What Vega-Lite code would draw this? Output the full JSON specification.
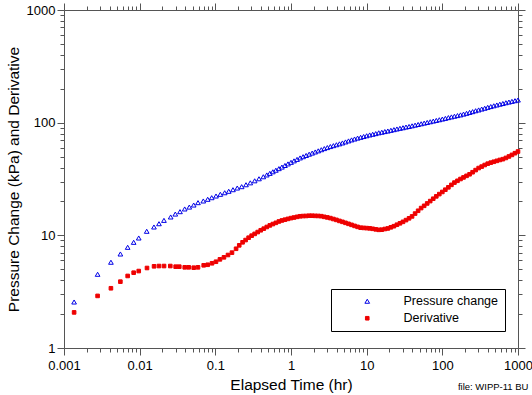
{
  "$schema": "https://vega.github.io/schema/vega-lite/v6.json",
  "width": 454,
  "height": 338,
  "autosize": {"type": "none"},
  "padding": {"left": 64, "top": 10, "right": 14, "bottom": 47},
  "config": {
    "font": "Liberation Sans",
    "view": {"stroke": null},
    "axis": {
      "grid": false,
      "labelFont": "Liberation Sans",
      "titleFont": "Liberation Sans",
      "labelFontSize": 13,
      "titleFontSize": 15.5,
      "titleFontWeight": "normal",
      "labelColor": "#000",
      "titleColor": "#000",
      "domainColor": "#555",
      "tickColor": "#555",
      "labelFlush": false,
      "labelOverlap": false
    }
  },
  "title": {
    "text": "file: WIPP-11 BU",
    "orient": "bottom",
    "anchor": "end",
    "fontSize": 9.5,
    "fontWeight": "normal",
    "font": "Liberation Sans",
    "color": "#000",
    "offset": 0,
    "dy": -11,
    "dx": -4
  },
  "data": {
    "values": [
      {"t": 0.00136, "v": 2.56, "s": "Pressure change"},
      {"t": 0.00278, "v": 4.51, "s": "Pressure change"},
      {"t": 0.00417, "v": 5.77, "s": "Pressure change"},
      {"t": 0.00556, "v": 6.83, "s": "Pressure change"},
      {"t": 0.00694, "v": 7.83, "s": "Pressure change"},
      {"t": 0.00833, "v": 8.67, "s": "Pressure change"},
      {"t": 0.00972, "v": 9.47, "s": "Pressure change"},
      {"t": 0.01239, "v": 10.86, "s": "Pressure change"},
      {"t": 0.01545, "v": 11.86, "s": "Pressure change"},
      {"t": 0.0180, "v": 12.68, "s": "Pressure change"},
      {"t": 0.02094, "v": 13.58, "s": "Pressure change"},
      {"t": 0.0257, "v": 14.55, "s": "Pressure change"},
      {"t": 0.02958, "v": 15.45, "s": "Pressure change"},
      {"t": 0.03412, "v": 16.22, "s": "Pressure change"},
      {"t": 0.03936, "v": 17.14, "s": "Pressure change"},
      {"t": 0.04529, "v": 17.82, "s": "Pressure change"},
      {"t": 0.05176, "v": 18.58, "s": "Pressure change"},
      {"t": 0.05902, "v": 19.50, "s": "Pressure change"},
      {"t": 0.06934, "v": 20.18, "s": "Pressure change"},
      {"t": 0.07925, "v": 20.89, "s": "Pressure change"},
      {"t": 0.08954, "v": 21.58, "s": "Pressure change"},
      {"t": 0.1021, "v": 22.34, "s": "Pressure change"},
      {"t": 0.1164, "v": 23.12, "s": "Pressure change"},
      {"t": 0.1330, "v": 23.88, "s": "Pressure change"},
      {"t": 0.1503, "v": 24.60, "s": "Pressure change"},
      {"t": 0.1710, "v": 25.41, "s": "Pressure change"},
      {"t": 0.1950, "v": 26.30, "s": "Pressure change"},
      {"t": 0.2228, "v": 27.04, "s": "Pressure change"},
      {"t": 0.2541, "v": 28.12, "s": "Pressure change"},
      {"t": 0.2897, "v": 29.24, "s": "Pressure change"},
      {"t": 0.3311, "v": 30.48, "s": "Pressure change"},
      {"t": 0.3776, "v": 31.77, "s": "Pressure change"},
      {"t": 0.4305, "v": 33.11, "s": "Pressure change"},
      {"t": 0.4786, "v": 34.36, "s": "Pressure change"},
      {"t": 0.5248, "v": 35.48, "s": "Pressure change"},
      {"t": 0.5754, "v": 36.64, "s": "Pressure change"},
      {"t": 0.6310, "v": 37.84, "s": "Pressure change"},
      {"t": 0.6918, "v": 39.08, "s": "Pressure change"},
      {"t": 0.7586, "v": 40.36, "s": "Pressure change"},
      {"t": 0.8318, "v": 41.69, "s": "Pressure change"},
      {"t": 0.9120, "v": 43.05, "s": "Pressure change"},
      {"t": 1.000, "v": 44.46, "s": "Pressure change"},
      {"t": 1.096, "v": 45.81, "s": "Pressure change"},
      {"t": 1.202, "v": 47.21, "s": "Pressure change"},
      {"t": 1.318, "v": 48.64, "s": "Pressure change"},
      {"t": 1.445, "v": 49.89, "s": "Pressure change"},
      {"t": 1.585, "v": 51.17, "s": "Pressure change"},
      {"t": 1.738, "v": 52.48, "s": "Pressure change"},
      {"t": 1.905, "v": 53.70, "s": "Pressure change"},
      {"t": 2.089, "v": 54.95, "s": "Pressure change"},
      {"t": 2.291, "v": 56.23, "s": "Pressure change"},
      {"t": 2.512, "v": 57.54, "s": "Pressure change"},
      {"t": 2.754, "v": 58.88, "s": "Pressure change"},
      {"t": 3.020, "v": 60.12, "s": "Pressure change"},
      {"t": 3.311, "v": 61.38, "s": "Pressure change"},
      {"t": 3.631, "v": 62.52, "s": "Pressure change"},
      {"t": 3.981, "v": 63.68, "s": "Pressure change"},
      {"t": 4.365, "v": 64.86, "s": "Pressure change"},
      {"t": 4.786, "v": 66.07, "s": "Pressure change"},
      {"t": 5.248, "v": 67.45, "s": "Pressure change"},
      {"t": 5.754, "v": 68.87, "s": "Pressure change"},
      {"t": 6.310, "v": 70.31, "s": "Pressure change"},
      {"t": 6.918, "v": 71.61, "s": "Pressure change"},
      {"t": 7.586, "v": 72.95, "s": "Pressure change"},
      {"t": 8.318, "v": 74.13, "s": "Pressure change"},
      {"t": 9.120, "v": 75.34, "s": "Pressure change"},
      {"t": 10.00, "v": 76.56, "s": "Pressure change"},
      {"t": 10.96, "v": 77.80, "s": "Pressure change"},
      {"t": 12.02, "v": 78.89, "s": "Pressure change"},
      {"t": 13.18, "v": 79.98, "s": "Pressure change"},
      {"t": 14.45, "v": 81.28, "s": "Pressure change"},
      {"t": 15.85, "v": 82.22, "s": "Pressure change"},
      {"t": 17.38, "v": 83.37, "s": "Pressure change"},
      {"t": 19.05, "v": 84.33, "s": "Pressure change"},
      {"t": 20.89, "v": 85.51, "s": "Pressure change"},
      {"t": 22.91, "v": 86.70, "s": "Pressure change"},
      {"t": 25.12, "v": 87.90, "s": "Pressure change"},
      {"t": 27.54, "v": 89.13, "s": "Pressure change"},
      {"t": 30.20, "v": 90.16, "s": "Pressure change"},
      {"t": 33.11, "v": 91.41, "s": "Pressure change"},
      {"t": 36.31, "v": 92.47, "s": "Pressure change"},
      {"t": 39.81, "v": 93.76, "s": "Pressure change"},
      {"t": 43.65, "v": 95.06, "s": "Pressure change"},
      {"t": 47.86, "v": 96.38, "s": "Pressure change"},
      {"t": 52.48, "v": 97.72, "s": "Pressure change"},
      {"t": 57.54, "v": 99.08, "s": "Pressure change"},
      {"t": 63.10, "v": 100.46, "s": "Pressure change"},
      {"t": 69.18, "v": 101.86, "s": "Pressure change"},
      {"t": 75.86, "v": 103.28, "s": "Pressure change"},
      {"t": 83.18, "v": 104.71, "s": "Pressure change"},
      {"t": 91.20, "v": 106.17, "s": "Pressure change"},
      {"t": 100.0, "v": 107.65, "s": "Pressure change"},
      {"t": 109.6, "v": 109.15, "s": "Pressure change"},
      {"t": 120.2, "v": 110.92, "s": "Pressure change"},
      {"t": 131.8, "v": 112.46, "s": "Pressure change"},
      {"t": 144.5, "v": 114.03, "s": "Pressure change"},
      {"t": 158.5, "v": 115.61, "s": "Pressure change"},
      {"t": 173.8, "v": 117.22, "s": "Pressure change"},
      {"t": 190.5, "v": 119.12, "s": "Pressure change"},
      {"t": 208.9, "v": 121.06, "s": "Pressure change"},
      {"t": 229.1, "v": 123.31, "s": "Pressure change"},
      {"t": 251.2, "v": 125.31, "s": "Pressure change"},
      {"t": 275.4, "v": 127.64, "s": "Pressure change"},
      {"t": 302.0, "v": 129.72, "s": "Pressure change"},
      {"t": 331.1, "v": 132.13, "s": "Pressure change"},
      {"t": 363.1, "v": 134.28, "s": "Pressure change"},
      {"t": 398.1, "v": 136.77, "s": "Pressure change"},
      {"t": 436.5, "v": 139.00, "s": "Pressure change"},
      {"t": 478.6, "v": 141.25, "s": "Pressure change"},
      {"t": 524.8, "v": 143.55, "s": "Pressure change"},
      {"t": 575.4, "v": 145.88, "s": "Pressure change"},
      {"t": 631.0, "v": 147.91, "s": "Pressure change"},
      {"t": 691.8, "v": 150.31, "s": "Pressure change"},
      {"t": 758.6, "v": 152.41, "s": "Pressure change"},
      {"t": 831.8, "v": 154.53, "s": "Pressure change"},
      {"t": 912.0, "v": 156.68, "s": "Pressure change"},
      {"t": 1000, "v": 158.87, "s": "Pressure change"},
      {"t": 0.00136, "v": 2.07, "s": "Derivative"},
      {"t": 0.00278, "v": 2.90, "s": "Derivative"},
      {"t": 0.00417, "v": 3.39, "s": "Derivative"},
      {"t": 0.00556, "v": 3.88, "s": "Derivative"},
      {"t": 0.00694, "v": 4.36, "s": "Derivative"},
      {"t": 0.00833, "v": 4.66, "s": "Derivative"},
      {"t": 0.00972, "v": 4.82, "s": "Derivative"},
      {"t": 0.0125, "v": 5.13, "s": "Derivative"},
      {"t": 0.0155, "v": 5.31, "s": "Derivative"},
      {"t": 0.018, "v": 5.34, "s": "Derivative"},
      {"t": 0.021, "v": 5.34, "s": "Derivative"},
      {"t": 0.0254, "v": 5.34, "s": "Derivative"},
      {"t": 0.0299, "v": 5.27, "s": "Derivative"},
      {"t": 0.0334, "v": 5.27, "s": "Derivative"},
      {"t": 0.0394, "v": 5.20, "s": "Derivative"},
      {"t": 0.0445, "v": 5.20, "s": "Derivative"},
      {"t": 0.0518, "v": 5.16, "s": "Derivative"},
      {"t": 0.059, "v": 5.20, "s": "Derivative"},
      {"t": 0.0702, "v": 5.42, "s": "Derivative"},
      {"t": 0.0793, "v": 5.48, "s": "Derivative"},
      {"t": 0.0904, "v": 5.65, "s": "Derivative"},
      {"t": 0.102, "v": 5.83, "s": "Derivative"},
      {"t": 0.115, "v": 6.12, "s": "Derivative"},
      {"t": 0.130, "v": 6.38, "s": "Derivative"},
      {"t": 0.147, "v": 6.69, "s": "Derivative"},
      {"t": 0.166, "v": 7.02, "s": "Derivative"},
      {"t": 0.188, "v": 7.60, "s": "Derivative"},
      {"t": 0.207, "v": 8.15, "s": "Derivative"},
      {"t": 0.2291, "v": 8.67, "s": "Derivative"},
      {"t": 0.2512, "v": 9.078, "s": "Derivative"},
      {"t": 0.2754, "v": 9.528, "s": "Derivative"},
      {"t": 0.3020, "v": 9.931, "s": "Derivative"},
      {"t": 0.3311, "v": 10.30, "s": "Derivative"},
      {"t": 0.3631, "v": 10.69, "s": "Derivative"},
      {"t": 0.3981, "v": 11.09, "s": "Derivative"},
      {"t": 0.4365, "v": 11.46, "s": "Derivative"},
      {"t": 0.4786, "v": 11.86, "s": "Derivative"},
      {"t": 0.5248, "v": 12.25, "s": "Derivative"},
      {"t": 0.5754, "v": 12.59, "s": "Derivative"},
      {"t": 0.6310, "v": 12.91, "s": "Derivative"},
      {"t": 0.6918, "v": 13.27, "s": "Derivative"},
      {"t": 0.7586, "v": 13.55, "s": "Derivative"},
      {"t": 0.8318, "v": 13.77, "s": "Derivative"},
      {"t": 0.9120, "v": 14.00, "s": "Derivative"},
      {"t": 1.000, "v": 14.22, "s": "Derivative"},
      {"t": 1.096, "v": 14.39, "s": "Derivative"},
      {"t": 1.202, "v": 14.59, "s": "Derivative"},
      {"t": 1.318, "v": 14.76, "s": "Derivative"},
      {"t": 1.445, "v": 14.83, "s": "Derivative"},
      {"t": 1.585, "v": 14.86, "s": "Derivative"},
      {"t": 1.738, "v": 14.93, "s": "Derivative"},
      {"t": 1.905, "v": 14.93, "s": "Derivative"},
      {"t": 2.089, "v": 14.89, "s": "Derivative"},
      {"t": 2.291, "v": 14.86, "s": "Derivative"},
      {"t": 2.512, "v": 14.79, "s": "Derivative"},
      {"t": 2.754, "v": 14.59, "s": "Derivative"},
      {"t": 3.020, "v": 14.42, "s": "Derivative"},
      {"t": 3.311, "v": 14.22, "s": "Derivative"},
      {"t": 3.631, "v": 13.96, "s": "Derivative"},
      {"t": 3.981, "v": 13.71, "s": "Derivative"},
      {"t": 4.365, "v": 13.43, "s": "Derivative"},
      {"t": 4.786, "v": 13.18, "s": "Derivative"},
      {"t": 5.248, "v": 12.91, "s": "Derivative"},
      {"t": 5.754, "v": 12.65, "s": "Derivative"},
      {"t": 6.310, "v": 12.39, "s": "Derivative"},
      {"t": 6.918, "v": 12.13, "s": "Derivative"},
      {"t": 7.586, "v": 11.89, "s": "Derivative"},
      {"t": 8.318, "v": 11.69, "s": "Derivative"},
      {"t": 9.120, "v": 11.64, "s": "Derivative"},
      {"t": 10.00, "v": 11.59, "s": "Derivative"},
      {"t": 10.96, "v": 11.53, "s": "Derivative"},
      {"t": 12.02, "v": 11.43, "s": "Derivative"},
      {"t": 13.18, "v": 11.30, "s": "Derivative"},
      {"t": 14.45, "v": 11.19, "s": "Derivative"},
      {"t": 15.85, "v": 11.22, "s": "Derivative"},
      {"t": 17.38, "v": 11.38, "s": "Derivative"},
      {"t": 19.05, "v": 11.51, "s": "Derivative"},
      {"t": 20.89, "v": 11.78, "s": "Derivative"},
      {"t": 22.91, "v": 12.05, "s": "Derivative"},
      {"t": 25.12, "v": 12.42, "s": "Derivative"},
      {"t": 27.54, "v": 12.79, "s": "Derivative"},
      {"t": 30.20, "v": 13.18, "s": "Derivative"},
      {"t": 33.11, "v": 13.65, "s": "Derivative"},
      {"t": 36.31, "v": 14.16, "s": "Derivative"},
      {"t": 39.81, "v": 14.72, "s": "Derivative"},
      {"t": 43.65, "v": 15.60, "s": "Derivative"},
      {"t": 47.86, "v": 16.52, "s": "Derivative"},
      {"t": 52.48, "v": 17.46, "s": "Derivative"},
      {"t": 57.54, "v": 18.28, "s": "Derivative"},
      {"t": 63.10, "v": 19.19, "s": "Derivative"},
      {"t": 69.18, "v": 20.14, "s": "Derivative"},
      {"t": 75.86, "v": 21.13, "s": "Derivative"},
      {"t": 83.18, "v": 22.18, "s": "Derivative"},
      {"t": 91.20, "v": 23.23, "s": "Derivative"},
      {"t": 100.0, "v": 24.27, "s": "Derivative"},
      {"t": 109.6, "v": 25.41, "s": "Derivative"},
      {"t": 120.2, "v": 26.67, "s": "Derivative"},
      {"t": 131.8, "v": 28.05, "s": "Derivative"},
      {"t": 144.5, "v": 29.38, "s": "Derivative"},
      {"t": 158.5, "v": 30.48, "s": "Derivative"},
      {"t": 173.8, "v": 31.62, "s": "Derivative"},
      {"t": 190.5, "v": 32.66, "s": "Derivative"},
      {"t": 208.9, "v": 33.73, "s": "Derivative"},
      {"t": 229.1, "v": 34.83, "s": "Derivative"},
      {"t": 251.2, "v": 36.31, "s": "Derivative"},
      {"t": 275.4, "v": 37.93, "s": "Derivative"},
      {"t": 302.0, "v": 39.54, "s": "Derivative"},
      {"t": 331.1, "v": 40.74, "s": "Derivative"},
      {"t": 363.1, "v": 42.07, "s": "Derivative"},
      {"t": 398.1, "v": 43.25, "s": "Derivative"},
      {"t": 436.5, "v": 44.16, "s": "Derivative"},
      {"t": 478.6, "v": 44.98, "s": "Derivative"},
      {"t": 524.8, "v": 45.81, "s": "Derivative"},
      {"t": 575.4, "v": 46.67, "s": "Derivative"},
      {"t": 631.0, "v": 47.42, "s": "Derivative"},
      {"t": 691.8, "v": 48.64, "s": "Derivative"},
      {"t": 758.6, "v": 50.12, "s": "Derivative"},
      {"t": 831.8, "v": 51.76, "s": "Derivative"},
      {"t": 912.0, "v": 53.58, "s": "Derivative"},
      {"t": 1000, "v": 55.46, "s": "Derivative"}
    ]
  },
  "layer": [
    {
      "mark": {"type": "point", "filled": true, "strokeWidth": 1, "opacity": 1},
      "encoding": {
        "x": {
          "field": "t", "type": "quantitative",
          "scale": {"type": "log", "domain": [0.001, 1000], "nice": false},
          "axis": {
            "orient": "bottom",
            "title": "Elapsed Time (hr)",
            "values": [0.001,0.002,0.003,0.004,0.005,0.006,0.007,0.008,0.009,0.01,0.02,0.03,0.04,0.05,0.06,0.07,0.08,0.09,0.1,0.2,0.3,0.4,0.5,0.6,0.7,0.8,0.9,1,2,3,4,5,6,7,8,9,10,20,30,40,50,60,70,80,90,100,200,300,400,500,600,700,800,900,1000],
            "labelExpr": "indexof([0.001,0.01,0.1,1,10,100,1000], datum.value) >= 0 ? format(datum.value, '~g') : ''",
            "tickSize": {"condition": {"test": "indexof([0.001,0.01,0.1,1,10,100,1000], datum.value) >= 0", "value": 7}, "value": 4},
            "labelPadding": 4,
            "titlePadding": 5
          }
        },
        "y": {
          "field": "v", "type": "quantitative",
          "scale": {"type": "log", "domain": [1, 1000], "nice": false},
          "axis": {
            "orient": "left",
            "title": "Pressure Change (kPa) and Derivative",
            "values": [1,2,3,4,5,6,7,8,9,10,20,30,40,50,60,70,80,90,100,200,300,400,500,600,700,800,900,1000],
            "labelExpr": "indexof([1,10,100,1000], datum.value) >= 0 ? format(datum.value, '~g') : ''",
            "tickSize": {"condition": {"test": "indexof([1,10,100,1000], datum.value) >= 0", "value": 7}, "value": 4},
            "labelPadding": 2,
            "titlePadding": 5
          }
        },
        "shape": {
          "field": "s", "type": "nominal",
          "scale": {"domain": ["Pressure change", "Derivative"], "range": ["triangle-up", "square"]},
          "legend": {
            "orient": "none",
            "legendX": 267,
            "legendY": 279,
            "title": null,
            "strokeColor": "#000",
            "fillColor": "#fff",
            "padding": 6,
            "symbolOffset": 24,
            "labelOffset": 30,
            "labelFontSize": 12.5,
            "labelFont": "Liberation Sans",
            "labelColor": "#000",
            "rowPadding": 4,
            "symbolStrokeWidth": 1,
            "symbolOpacity": 1
          }
        },
        "size": {
          "field": "s", "type": "nominal",
          "scale": {"domain": ["Pressure change", "Derivative"], "range": [22, 13]}
        },
        "fill": {
          "field": "s", "type": "nominal",
          "scale": {"domain": ["Pressure change", "Derivative"], "range": ["transparent", "#ee0000"]}
        },
        "stroke": {
          "field": "s", "type": "nominal",
          "scale": {"domain": ["Pressure change", "Derivative"], "range": ["#0000e6", "#ee0000"]}
        }
      }
    },
    {
      "mark": {"type": "point", "opacity": 0},
      "encoding": {
        "x": {
          "field": "t", "type": "quantitative",
          "scale": {"type": "log", "domain": [0.001, 1000], "nice": false},
          "axis": {
            "orient": "top",
            "title": null,
            "labels": false,
            "values": [0.001,0.002,0.003,0.004,0.005,0.006,0.007,0.008,0.009,0.01,0.02,0.03,0.04,0.05,0.06,0.07,0.08,0.09,0.1,0.2,0.3,0.4,0.5,0.6,0.7,0.8,0.9,1,2,3,4,5,6,7,8,9,10,20,30,40,50,60,70,80,90,100,200,300,400,500,600,700,800,900,1000],
            "tickSize": {"condition": {"test": "indexof([0.001,0.01,0.1,1,10,100,1000], datum.value) >= 0", "value": 7}, "value": 4}
          }
        },
        "y": {
          "field": "v", "type": "quantitative",
          "scale": {"type": "log", "domain": [1, 1000], "nice": false},
          "axis": {
            "orient": "right",
            "title": null,
            "labels": false,
            "values": [1,2,3,4,5,6,7,8,9,10,20,30,40,50,60,70,80,90,100,200,300,400,500,600,700,800,900,1000],
            "tickSize": {"condition": {"test": "indexof([1,10,100,1000], datum.value) >= 0", "value": 7}, "value": 4}
          }
        }
      }
    }
  ],
  "resolve": {"axis": {"x": "independent", "y": "independent"}}
}
